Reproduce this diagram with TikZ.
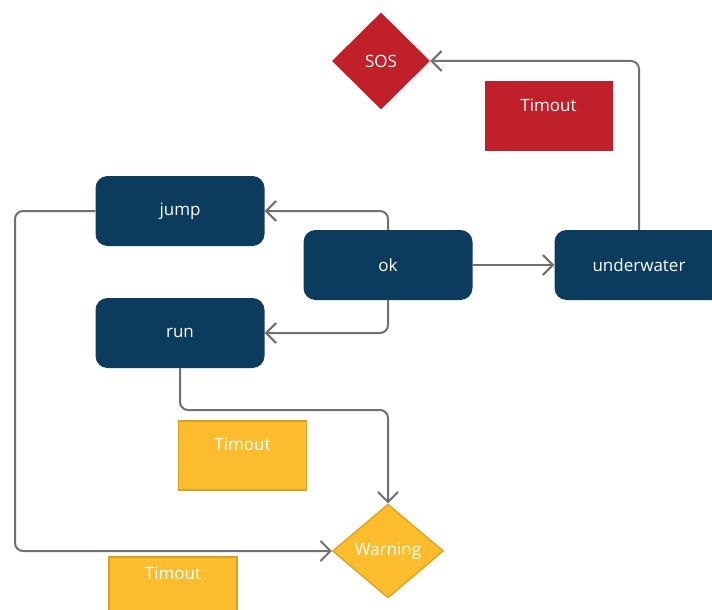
\documentclass[tikz,border=0pt]{standalone}
\usepackage{fontspec}
\setmainfont{Open Sans}
\usetikzlibrary{shapes,arrows.meta}
\definecolor{navy}{HTML}{0B3C5D}
\definecolor{alarm}{HTML}{C0202A}
\definecolor{amber}{HTML}{FBBD2E}
\definecolor{amberline}{HTML}{D9A11C}
\definecolor{wire}{HTML}{707070}

\begin{document}
\begin{tikzpicture}[x=1pt,y=-1pt,>={Straight Barb[length=10pt,width=20pt]},
  every node/.style={font=\fontsize{17}{20}\selectfont,text=white},
  statebox/.style={rectangle,rounded corners=12pt,fill=navy,minimum width=169pt,minimum height=70pt},
  decision/.style={diamond,inner sep=0pt},
  timer/.style={rectangle,inner xsep=0pt,inner ysep=9pt,minimum width=128pt},
  flow/.style={->,draw=wire,line width=2pt,rounded corners=8pt}]
\useasboundingbox (0,0) rectangle (712,610);
\clip (0,0) rectangle (712,610);

\node[statebox](jump) at (180,211) {jump};
\node[statebox](ok) at (388,265) {ok};
\node[statebox](run) at (180,333) {run};
\node[statebox](uw) at (639,265) {underwater};

\node[decision,fill=alarm,minimum width=98pt,minimum height=97pt](sos) at (381,61) {SOS};
\node[decision,fill=amber,draw=amberline,line width=1.2pt,minimum width=111pt,minimum height=94pt](warn) at (388,551) {Warning};

\node[timer,fill=alarm,text height=21pt,text depth=31pt](t1) at (548.5,116) {Timout};
\node[timer,fill=amber,draw=amberline,line width=1.2pt,text height=20pt,text depth=31pt](t2) at (242.5,455.5) {Timout};
\node[timer,fill=amber,draw=amberline,line width=1.2pt,text height=13pt,text depth=38pt](t3) at (173,591.5) {Timout};

\coordinate (lft) at (15,551);
\coordinate (mid) at (388,410);

\draw[flow](ok.north) |- (jump.east);
\draw[flow](ok.south) |- (run.east);
\draw[flow](ok.east) -- (uw.west);
\draw[flow](uw.north) |- (sos.east);
\draw[flow](jump.west) -| (lft) -- (warn.west);
\draw[flow](run.south) |- (mid) -- (warn.north);
\end{tikzpicture}
\end{document}
